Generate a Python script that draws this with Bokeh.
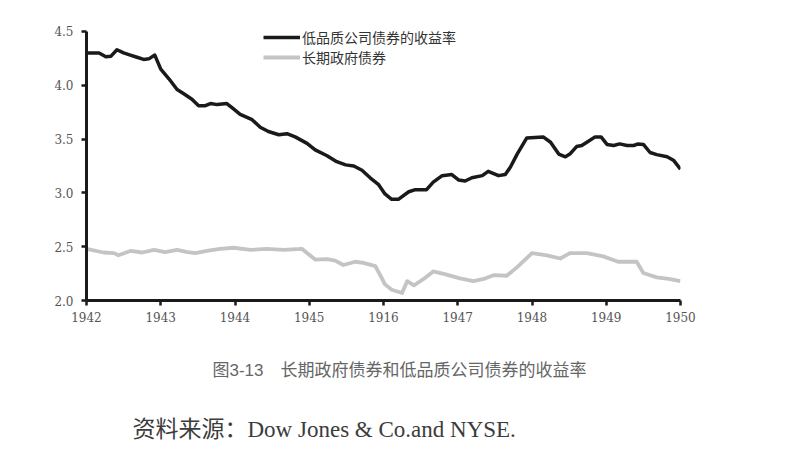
from bokeh.plotting import figure
from bokeh.models import (ColumnDataSource, FixedTicker, Legend, LegendItem, Range1d, Title)
from bokeh.embed import file_html
from bokeh.resources import INLINE

# ---- data ----
corp_x = [1942.00, 1942.17, 1942.26, 1942.33, 1942.41, 1942.50, 1942.59, 1942.68, 1942.77, 1942.84,
          1942.92, 1943.00, 1943.11, 1943.22, 1943.31, 1943.42, 1943.51, 1943.60, 1943.67, 1943.76,
          1943.89, 1943.98, 1944.07, 1944.23, 1944.34, 1944.45, 1944.59, 1944.70, 1944.81, 1944.97,
          1945.08, 1945.24, 1945.37, 1945.49, 1945.60, 1945.71, 1945.82, 1945.93, 1946.02, 1946.11,
          1946.20, 1946.34, 1946.43, 1946.58, 1946.67, 1946.79, 1946.92, 1947.01, 1947.10, 1947.19,
          1947.33, 1947.41, 1947.55, 1947.64, 1947.71, 1947.80, 1947.93, 1948.04, 1948.15, 1948.25,
          1948.36, 1948.45, 1948.51, 1948.60, 1948.67, 1948.76, 1948.85, 1948.93, 1949.01, 1949.10,
          1949.18, 1949.28, 1949.37, 1949.43, 1949.50, 1949.59, 1949.68, 1949.82, 1949.91, 1950.00]
corp_y = [4.30, 4.30, 4.265, 4.27, 4.33, 4.30, 4.28, 4.26, 4.24, 4.245,
          4.28, 4.15, 4.06, 3.96, 3.92, 3.87, 3.81, 3.81, 3.83, 3.82,
          3.83, 3.78, 3.73, 3.68, 3.61, 3.57, 3.54, 3.55, 3.52, 3.46,
          3.40, 3.345, 3.29, 3.26, 3.25, 3.21, 3.14, 3.08, 2.99, 2.94,
          2.94, 3.01, 3.03, 3.03, 3.10, 3.16, 3.17, 3.12, 3.11, 3.14,
          3.16, 3.20, 3.16, 3.17, 3.24, 3.36, 3.51, 3.515, 3.52, 3.47,
          3.36, 3.335, 3.36, 3.43, 3.44, 3.48, 3.52, 3.52, 3.45, 3.44,
          3.455, 3.44, 3.44, 3.455, 3.45, 3.375, 3.355, 3.335, 3.30, 3.22]

gov_x = [1942.00, 1942.23, 1942.37, 1942.43, 1942.59, 1942.75, 1942.91, 1943.06, 1943.22, 1943.36,
         1943.47, 1943.62, 1943.80, 1943.98, 1944.21, 1944.43, 1944.65, 1944.90, 1945.08, 1945.24,
         1945.35, 1945.46, 1945.62, 1945.73, 1945.89, 1945.96, 1946.02, 1946.11, 1946.25, 1946.32,
         1946.41, 1946.54, 1946.67, 1946.85, 1947.03, 1947.21, 1947.35, 1947.48, 1947.66, 1947.80,
         1948.00, 1948.20, 1948.38, 1948.51, 1948.74, 1948.96, 1949.16, 1949.41, 1949.50, 1949.68,
         1949.84, 1950.00]
gov_y = [2.48, 2.446, 2.44, 2.42, 2.46, 2.446, 2.47, 2.45, 2.47, 2.45,
         2.44, 2.46, 2.48, 2.49, 2.47, 2.48, 2.47, 2.48, 2.38, 2.385,
         2.37, 2.33, 2.36, 2.35, 2.32, 2.23, 2.15, 2.10, 2.07, 2.18,
         2.14, 2.20, 2.27, 2.24, 2.205, 2.18, 2.20, 2.235, 2.23, 2.31,
         2.44, 2.42, 2.39, 2.44, 2.44, 2.41, 2.36, 2.36, 2.255, 2.215,
         2.20, 2.18]

x_ticks = [1942, 1943, 1944, 1945, 1946, 1947, 1948, 1949, 1950]
x_tick_labels = ["1942", "1943", "1944", "1945", "1916", "1947", "1948", "1949", "1950"]
y_ticks = [2.0, 2.5, 3.0, 3.5, 4.0, 4.5]
y_tick_labels = ["2.0", "2.5", "3.0", "3.5", "4.0", "4.5"]

series_names = ["低品质公司债券的收益率", "长期政府债券"]
caption = "图3-13　长期政府债券和低品质公司债券的收益率"
source_text = "资料来源：Dow Jones & Co.and NYSE."

# ---- figure ----
p = figure(width=790, height=453, output_backend="svg", toolbar_location=None,
           x_range=Range1d(1942, 1950), y_range=Range1d(2.0, 4.62),
           min_border_left=86, min_border_right=110, min_border_top=18, min_border_bottom=153)
p.outline_line_color = None
p.grid.visible = False
p.background_fill_color = "white"
p.border_fill_color = "white"

src_c = ColumnDataSource(dict(x=corp_x, y=corp_y))
src_g = ColumnDataSource(dict(x=gov_x, y=gov_y))
r_corp = p.line("x", "y", source=src_c, line_color="#1a1a1a", line_width=3.5, line_join="round")
r_gov = p.line("x", "y", source=src_g, line_color="#c4c4c4", line_width=3.8, line_join="round")

tick_font = "DejaVu Serif"
for ax in (p.xaxis[0], p.yaxis[0]):
    ax.axis_line_width = 3
    ax.axis_line_color = "#1a1a1a"
    ax.major_tick_line_color = "#1a1a1a"
    ax.major_tick_line_width = 2.5
    ax.major_tick_in = 0
    ax.major_tick_out = 5
    ax.minor_tick_line_color = None
    ax.major_label_text_font = tick_font
    ax.major_label_text_font_size = "12px"
    ax.major_label_text_color = "#555555"

p.xaxis[0].ticker = FixedTicker(ticks=x_ticks)
p.xaxis[0].major_label_overrides = {t: l for t, l in zip(x_ticks, x_tick_labels)}
p.xaxis[0].major_label_standoff = 6
p.yaxis[0].ticker = FixedTicker(ticks=y_ticks)
p.yaxis[0].major_label_overrides = {t: l for t, l in zip(y_ticks, y_tick_labels)}
p.yaxis[0].major_label_standoff = 8
p.yaxis[0].bounds = (2.0, 4.5)

legend = Legend(items=[LegendItem(label=series_names[0], renderers=[r_corp]),
                       LegendItem(label=series_names[1], renderers=[r_gov])],
                location=(177, 233), orientation="vertical",
                label_text_font="Noto Sans CJK SC", label_text_font_size="14px",
                label_text_color="#333333", glyph_width=37, glyph_height=16,
                label_height=16, label_standoff=2, spacing=-2, padding=0, margin=0,
                border_line_color=None, background_fill_alpha=0)
p.add_layout(legend, "center")

p.add_layout(Title(text=caption, align="left", offset=126, standoff=68,
                   text_font="Liberation Sans, Noto Sans CJK SC", text_font_size="17px",
                   text_font_style="normal", text_color="#666666"), "below")
p.add_layout(Title(text=source_text, align="left", offset=46, standoff=2,
                   text_font="Liberation Serif, Noto Sans CJK SC", text_font_size="23px",
                   text_font_style="normal", text_color="#3c3c3c"), "below")

open("out.html", "w").write(file_html(p, INLINE))
